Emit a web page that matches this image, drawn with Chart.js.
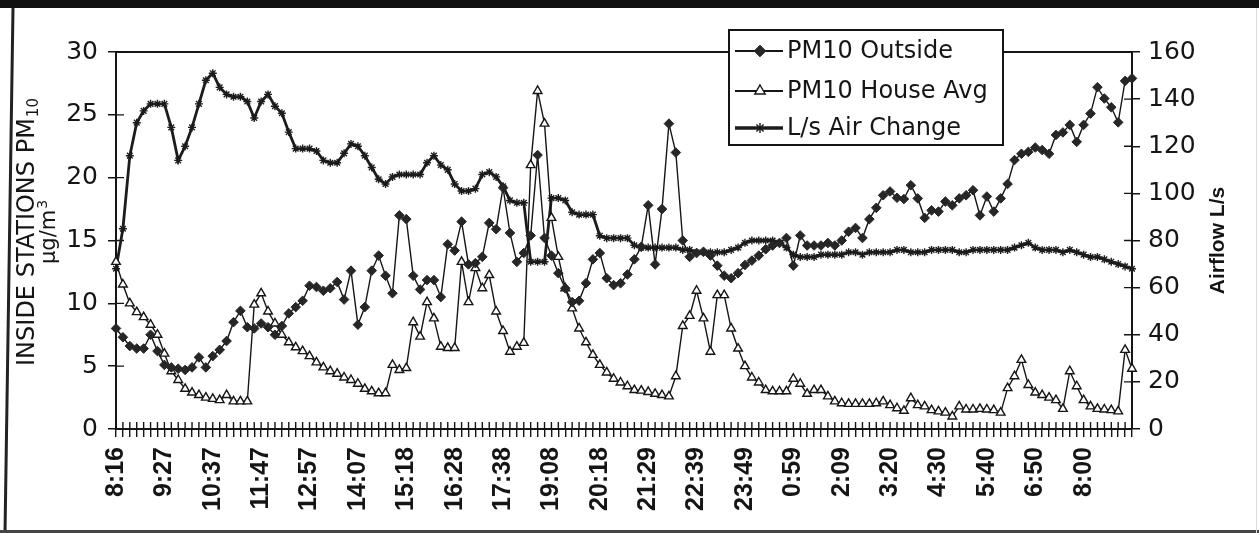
<!DOCTYPE html>
<html>
<head>
<meta charset="UTF-8">
<title>PM10 inside / outside and airflow</title>
<script src="https://cdn.jsdelivr.net/npm/chart.js"></script>
<style>
  html, body { margin: 0; padding: 0; background: #fff; }
  canvas { display: block; }
</style>
</head>
<body>
<canvas id="grafico" width="1259" height="533"></canvas>
<script>
// axis labels shown every 7th reading
const tickLabels = ['8:16','9:27','10:37','11:47','12:57','14:07','15:18','16:28','17:38','19:08',
  '20:18','21:29','22:39','23:49','0:59','2:09','3:20','4:30','5:40','6:50','8:00'];
const labelEvery = 7;

// PM10 outside, ug/m3 (left axis)
const pm10Outside = [
  8.0,7.3,6.6,6.4,6.4,7.5,6.2,5.1,4.9,4.8,
  4.7,4.9,5.7,4.9,5.8,6.3,7.0,8.5,9.4,8.1,
  8.0,8.4,8.1,7.5,8.2,9.2,9.7,10.2,11.4,11.3,
  11.0,11.2,11.7,10.3,12.6,8.3,9.7,12.6,13.8,12.2,
  10.8,17.0,16.7,12.2,11.1,11.85,11.85,10.5,14.7,14.2,
  16.5,13.1,13.2,13.7,16.4,15.9,19.2,15.6,13.3,14.0,
  15.4,21.8,15.2,13.8,12.4,11.2,10.1,10.2,11.6,13.5,
  14.0,12.0,11.45,11.6,12.3,13.5,14.5,17.8,13.1,17.5,
  24.3,22.0,15.0,13.7,14.0,14.1,13.8,13.0,12.2,12.0,
  12.4,13.05,13.4,13.8,14.3,14.6,14.8,15.2,13.0,15.4,
  14.6,14.6,14.6,14.8,14.6,15.0,15.7,16.0,15.2,16.7,
  17.6,18.6,18.9,18.4,18.3,19.4,18.35,16.8,17.4,17.3,
  18.1,17.8,18.35,18.6,19.0,17.0,18.5,17.3,18.35,19.5,
  21.4,21.9,22.05,22.4,22.2,21.9,23.4,23.6,24.2,22.85,
  24.2,25.1,27.2,26.3,25.6,24.4,27.7,27.9
];

// PM10 house average, ug/m3 (left axis)
const pm10House = [
  13.3,11.5,10.0,9.3,8.9,8.3,7.5,6.0,4.6,3.9,
  3.2,2.9,2.7,2.5,2.4,2.3,2.7,2.2,2.2,2.2,
  9.9,10.8,9.35,8.4,7.5,6.9,6.5,6.2,5.8,5.3,
  4.9,4.6,4.4,4.1,3.9,3.6,3.2,3.0,2.85,2.85,
  5.1,4.7,4.85,8.5,7.35,10.1,8.8,6.55,6.45,6.45,
  13.3,10.1,12.8,11.2,12.25,9.35,7.8,6.15,6.55,6.85,
  21.0,26.9,24.3,16.8,13.7,11.2,9.6,8.0,6.9,5.9,
  5.1,4.5,4.0,3.7,3.4,3.1,3.05,2.95,2.8,2.7,
  2.6,4.2,8.2,9.0,11.0,8.8,6.15,10.65,10.65,8.0,
  6.4,5.0,4.1,3.7,3.1,3.0,3.0,3.0,4.0,3.6,
  2.8,3.1,3.1,2.6,2.2,2.05,2.0,2.0,2.0,2.0,
  2.05,2.2,1.9,1.65,1.45,2.45,1.9,1.8,1.5,1.4,
  1.3,1.0,1.8,1.55,1.55,1.6,1.55,1.5,1.3,3.25,
  4.2,5.5,3.5,2.9,2.7,2.5,2.3,1.6,4.6,3.4,
  2.3,1.8,1.6,1.55,1.5,1.4,6.3,4.8
];

// air change, L/s (right axis)
const airChange = [
  68,85,116,130,135,138,138,138,128,114,
  120,128,138,148,151,145,142,141,141,139,
  132,139,142,137,134,126,119,119,119,118,
  114,113,113,117,121,120,116,111,106,104,
  107,108,108,108,108,113,116,112,110,104,
  101,101,102,108,109,107,103,97,96,96,
  71,71,71,98,98,97,92,91,91,91,
  82,81,81,81,81,78,77,77,77,77,
  77,77,76,76,75,75,75,75,75,76,
  77,79,80,80,80,80,79,77,74,73,
  73,73,74,74,74,74,75,75,74,75,
  75,75,75,76,76,75,75,75,76,76,
  76,76,75,75,76,76,76,76,76,76,
  77,78,79,77,76,76,76,75,76,75,
  74,73,73,72,71,70,69,68
];

const categories = pm10Outside.map((v, i) =>
  i % labelEvery === 0 ? (tickLabels[i / labelEvery] || '') : '');

const ink = '#151515';
const tickFont = { family: 'DejaVu Sans', size: 25 };

// page frame, black strip on top, plot border and the inner half of every tick
const frame = {
  id: 'frame',
  beforeDraw(chart) {
    const c = chart.ctx;
    c.save();
    c.fillStyle = '#fff';
    c.fillRect(0, 0, chart.width, chart.height);
    c.fillStyle = '#111';
    c.fillRect(0, 0, chart.width, 8);
    c.strokeStyle = '#222';
    c.lineWidth = 3;
    c.beginPath();
    c.moveTo(13, 8); c.lineTo(5, chart.height);
    c.stroke();
    c.fillStyle = '#444';
    c.fillRect(0, chart.height - 3, chart.width, 3);
    c.fillStyle = '#ddd';
    c.fillRect(chart.width - 3, 8, 1, chart.height - 8);
    c.restore();
  },
  beforeDatasetsDraw(chart) {
    const c = chart.ctx, a = chart.chartArea;
    const { x, y, y1 } = chart.scales;
    c.save();
    c.strokeStyle = ink;
    c.lineWidth = 2;
    c.beginPath();
    c.moveTo(a.left, a.top); c.lineTo(a.right, a.top);
    c.stroke();
    c.lineWidth = 1.4;
    c.beginPath();
    x.ticks.forEach((t, i) => {
      const px = x.getPixelForTick(i);
      c.moveTo(px, a.bottom); c.lineTo(px, a.bottom - 7);
    });
    y.ticks.forEach((t, i) => {
      const py = y.getPixelForTick(i);
      c.moveTo(a.left, py); c.lineTo(a.left + 8, py);
    });
    y1.ticks.forEach((t, i) => {
      const py = y1.getPixelForTick(i);
      c.moveTo(a.right, py); c.lineTo(a.right - 8, py);
    });
    c.stroke();
    c.restore();
  },
  afterDraw(chart) {
    const c = chart.ctx, a = chart.chartArea;
    c.save();
    c.fillStyle = ink;
    // left title with subscript, and the unit line below it
    const midY = (a.top + a.bottom) / 2 - 8;
    c.translate(28, midY);
    c.rotate(-Math.PI / 2);
    c.textBaseline = 'middle';
    c.font = '24px "DejaVu Sans"';
    const main = 'INSIDE STATIONS PM';
    const wMain = c.measureText(main).width;
    c.font = '15px "DejaVu Sans"';
    const wSub = c.measureText('10').width;
    let x0 = -(wMain + wSub) / 2;
    c.font = '24px "DejaVu Sans"';
    c.fillText(main, x0, 0);
    c.font = '15px "DejaVu Sans"';
    c.fillText('10', x0 + wMain + 1, 6);
    c.font = '21px "DejaVu Sans"';
    const unit = 'µg/m';
    const wUnit = c.measureText(unit).width;
    c.font = '14px "DejaVu Sans"';
    const wSup = c.measureText('3').width;
    x0 = -(wUnit + wSup) / 2;
    c.font = '21px "DejaVu Sans"';
    c.fillText(unit, x0, 22);
    c.font = '14px "DejaVu Sans"';
    c.fillText('3', x0 + wUnit + 1, 15);
    c.restore();

    // right title
    c.save();
    c.fillStyle = ink;
    c.translate(1218, (a.top + a.bottom) / 2);
    c.rotate(-Math.PI / 2);
    c.textAlign = 'center';
    c.textBaseline = 'middle';
    c.font = 'bold 21px "Liberation Sans"';
    c.fillText('Airflow L/s', 0, 0);
    c.restore();
  }
};

// boxed legend inside the plot, line sample with its marker
const legendBox = {
  id: 'legendBox',
  afterDraw(chart) {
    const c = chart.ctx;
    const box = { left: 729, top: 30, width: 274, height: 115 };
    c.save();
    c.fillStyle = '#fff';
    c.fillRect(box.left, box.top, box.width, box.height);
    c.strokeStyle = ink;
    c.lineWidth = 2;
    c.strokeRect(box.left, box.top, box.width, box.height);
    const rows = [51, 91, 128];
    chart.data.datasets.forEach((ds, i) => {
      const ry = rows[i];
      c.strokeStyle = ds.borderColor;
      c.lineWidth = ds.borderWidth + 0.6;
      c.beginPath();
      c.moveTo(735, ry); c.lineTo(783, ry);
      c.stroke();
      c.fillStyle = ds.pointBackgroundColor;
      c.strokeStyle = ds.pointBorderColor;
      c.lineWidth = ds.pointBorderWidth;
      Chart.helpers.drawPoint(c, {
        pointStyle: ds.pointStyle, radius: ds.pointRadius + 1, rotation: 0,
        borderWidth: ds.pointBorderWidth
      }, 760, ry);
      c.fillStyle = ink;
      c.font = '24px "DejaVu Sans"';
      c.textBaseline = 'middle';
      c.fillText(ds.label, 787, ry + 1);
    });
    c.restore();
  }
};

new Chart(document.getElementById('grafico'), {
  type: 'line',
  data: {
    labels: categories,
    datasets: [
      {
        label: 'PM10 Outside',
        data: pm10Outside,
        yAxisID: 'y',
        borderColor: ink,
        borderWidth: 1.4,
        pointStyle: 'rectRot',
        pointRadius: 4.8,
        pointBackgroundColor: '#262626',
        pointBorderColor: '#262626',
        pointBorderWidth: 1,
        clip: false
      },
      {
        label: 'PM10 House Avg',
        data: pm10House,
        yAxisID: 'y',
        borderColor: ink,
        borderWidth: 1.4,
        pointStyle: 'triangle',
        pointRadius: 5,
        pointBackgroundColor: '#fff',
        pointBorderColor: ink,
        pointBorderWidth: 1.4,
        clip: false
      },
      {
        label: 'L/s Air Change',
        data: airChange,
        yAxisID: 'y1',
        borderColor: '#1c1c1c',
        borderWidth: 2.8,
        pointStyle: 'star',
        pointRadius: 4,
        pointBackgroundColor: '#1c1c1c',
        pointBorderColor: '#1c1c1c',
        pointBorderWidth: 1.4,
        clip: false
      }
    ]
  },
  options: {
    responsive: false,
    animation: false,
    events: [],
    layout: { padding: { top: 52, left: 0, right: 0, bottom: 0 } },
    plugins: { legend: { display: false }, tooltip: { enabled: false }, title: { display: false } },
    elements: { line: { tension: 0 } },
    scales: {
      x: {
        type: 'category',
        offset: false,
        grid: { drawOnChartArea: false, tickLength: 8, color: ink, lineWidth: 1.4 },
        border: { color: ink, width: 2 },
        ticks: {
          autoSkip: false, maxRotation: 90, minRotation: 90, padding: 10,
          color: ink, font: { family: 'Liberation Sans', size: 25, weight: 'bold' }
        },
        afterFit(scale) { scale.height = 104; }
      },
      y: {
        position: 'left',
        min: 0, max: 30,
        grid: { drawOnChartArea: false, tickLength: 8, color: ink, lineWidth: 1.5 },
        border: { color: ink, width: 2 },
        ticks: { stepSize: 5, padding: 10, color: ink, font: tickFont },
        afterFit(scale) { scale.width = 116; }
      },
      y1: {
        position: 'right',
        min: 0, max: 160,
        grid: { drawOnChartArea: false, tickLength: 8, color: ink, lineWidth: 1.5 },
        border: { color: ink, width: 2 },
        ticks: { stepSize: 20, padding: 8, color: ink, font: tickFont },
        afterFit(scale) { scale.width = 127; }
      }
    }
  },
  plugins: [frame, legendBox]
});
</script>
</body>
</html>
